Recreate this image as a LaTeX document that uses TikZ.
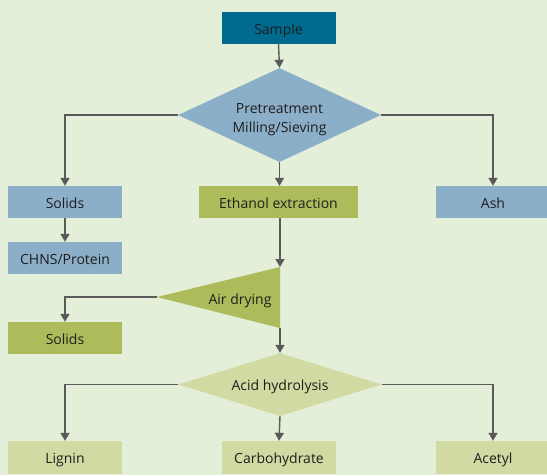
\documentclass[tikz,border=0pt]{standalone}
\usepackage{fontspec}
\setmainfont{Open Sans}
\usetikzlibrary{shapes.geometric,arrows.meta}
\definecolor{bgc}{HTML}{E3EFD9}
\definecolor{teal}{HTML}{006B8F}
\definecolor{bluebox}{HTML}{8BAFC8}
\definecolor{olive}{HTML}{AEBB5A}
\definecolor{lolive}{HTML}{D1DAA2}
\definecolor{linec}{HTML}{5A5A5A}
\definecolor{txt}{HTML}{1E1E1E}
\tikzset{
  lbl/.style={text=txt, font=\fontsize{14}{19}\selectfont, text height=14pt, text depth=2pt},
  box/.style={lbl, rectangle, minimum width=114pt, minimum height=32pt, inner sep=0pt},
  dia/.style={diamond, minimum width=203pt, minimum height=94pt, inner sep=0pt},
  arr/.style={draw=linec, line width=1.4pt, -{Triangle[width=9pt,length=8pt]}},
}
\begin{document}
\begin{tikzpicture}[x=1pt,y=-1pt]
\fill[bgc] (0,0) rectangle (547,475);
\useasboundingbox (0,0) rectangle (547,475);
\node[box, fill=teal] (sample) at (278.5,28) {Sample};
\node[dia, fill=bluebox] (pre) at (279.5,115) {};
\node[text=txt, font=\fontsize{14}{19}\selectfont, align=center] (pretext) at (279.5,120) {Pretreatment\\Milling/Sieving};
\node[box, fill=bluebox] (solids1) at (65,202) {Solids};
\node[box, fill=olive, minimum width=159pt] (eth) at (278.5,202) {Ethanol extraction};
\node[box, fill=bluebox] (ash) at (493,202) {Ash};
\node[box, fill=bluebox] (chns) at (65,258) {CHNS/Protein};
\coordinate (airT) at (280,267);
\coordinate (airB) at (280,328);
\coordinate (airL) at (157,297);
\fill[olive] (airT) -- (airB) -- (airL) -- cycle;
\node[lbl] (air) at (240,298) {Air drying};
\node[box, fill=olive] (solids2) at (65,338) {Solids};
\node[dia, fill=lolive, minimum height=63pt] (acid) at (280,384.5) {};
\node[lbl] (acidtext) at (280,384.5) {Acid hydrolysis};
\node[box, fill=lolive, minimum height=33pt] (lignin) at (65,457.5) {Lignin};
\node[box, fill=lolive, minimum height=33pt] (carb) at (279,457.5) {Carbohydrate};
\node[box, fill=lolive, minimum height=33pt] (acetyl) at (493,457.5) {Acetyl};
\draw[arr] (sample.south) -- (pre.north);
\draw[arr] (pre.west) -| (solids1.north);
\draw[arr] (pre.east) -| (ash.north);
\draw[arr] (pre.south) -- (eth.north -| pre.south);
\draw[arr] (solids1.south) -- (chns.north);
\draw[arr] (eth.south -| airT) -- (airT);
\draw[arr] (airL) -| (solids2.north);
\draw[arr] (airB) -- (acid.north);
\draw[arr] (acid.west) -| (lignin.north);
\draw[arr] (acid.south) -- (carb.north);
\draw[arr] (acid.east) -| (acetyl.north);
\end{tikzpicture}
\end{document}
